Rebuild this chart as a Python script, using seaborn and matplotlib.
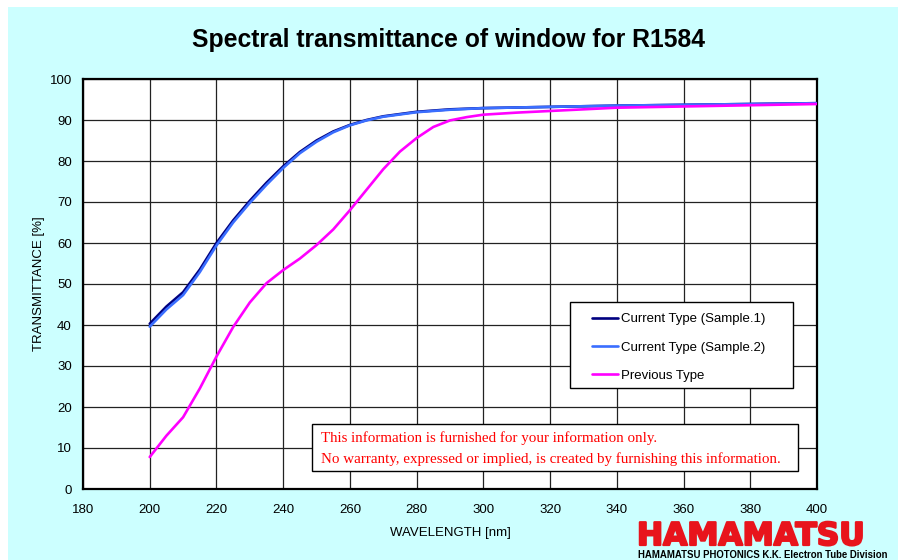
import matplotlib
matplotlib.use("Agg")
import matplotlib.pyplot as plt
from matplotlib.patches import Rectangle
import matplotlib.patheffects as pe
import numpy as np
import pandas as pd
import seaborn as sns

# Wavelengths (nm) and measured transmittance (%)
wl_current = [200, 205, 210, 215, 220, 225, 230, 235, 240, 245, 250, 255, 260,
              265, 270, 280, 290, 300, 320, 340, 360, 380, 400]
sample1 = [40.3, 44.5, 48.0, 53.5, 60.0, 65.5, 70.3, 74.7, 78.7, 82.2, 85.0, 87.2, 88.8,
           90.0, 90.9, 92.0, 92.6, 92.9, 93.2, 93.5, 93.7, 93.9, 94.1]
sample2 = [39.6, 43.8, 47.3, 52.9, 59.4, 65.0, 69.8, 74.2, 78.3, 81.9, 84.7, 87.0, 88.7,
           89.9, 90.8, 91.9, 92.5, 92.9, 93.2, 93.5, 93.7, 93.9, 94.1]

wl_previous = [200, 205, 210, 215, 220, 225, 230, 235, 240, 245, 250, 255, 260, 265,
               270, 275, 280, 285, 290, 295, 300, 310, 320, 340, 360, 380, 400]
previous = [7.8, 13.0, 17.5, 24.5, 32.3, 39.5, 45.5, 50.2, 53.4, 56.2, 59.5, 63.3, 68.0, 73.0,
            78.0, 82.3, 85.6, 88.3, 89.9, 90.7, 91.3, 91.8, 92.2, 93.0, 93.3, 93.6, 93.9]

labels = ["Current Type (Sample.1)", "Current Type (Sample.2)", "Previous Type"]
colors = ["#000080", "#3A6EFF", "#FF00FF"]

x_ticks = list(range(180, 401, 20))
y_ticks = list(range(0, 101, 10))

sns.set_style("white")
plt.rcParams["font.family"] = ["Liberation Sans", "DejaVu Sans"]
plt.rcParams["text.color"] = "black"
plt.rcParams["axes.labelcolor"] = "black"
plt.rcParams["xtick.color"] = "black"
plt.rcParams["ytick.color"] = "black"

W, H = 898, 560
fig = plt.figure(figsize=(W / 100, H / 100), dpi=100, facecolor="white")

# light cyan page background with a thin white margin at top and left
fig.patches.append(Rectangle((8 / W, 0), 1 - 8 / W, 1 - 7 / H, transform=fig.transFigure,
                             facecolor="#CCFFFF", edgecolor="none", zorder=-10))

ax = fig.add_axes([83 / W, (H - 489) / H, (817 - 83) / W, (489 - 79) / H])
ax.set_facecolor("white")

frames = [
    pd.DataFrame({"wl": wl_current, "t": sample1}),
    pd.DataFrame({"wl": wl_current, "t": sample2}),
    pd.DataFrame({"wl": wl_previous, "t": previous}),
]
for df, lab, col in zip(frames, labels, colors):
    sns.lineplot(data=df, x="wl", y="t", ax=ax, color=col, linewidth=1.9,
                 label=lab, sort=False, estimator=None, zorder=3)

ax.set_xlim(180, 400)
ax.set_ylim(0, 100)
ax.set_xticks(x_ticks)
ax.set_yticks(y_ticks)
ax.grid(True, color="#222222", linewidth=0.9)
ax.set_axisbelow(True)
for s in ax.spines.values():
    s.set_visible(True)
    s.set_color("black")
    s.set_linewidth(1.6)
ax.tick_params(axis="both", labelsize=9.5, colors="black", length=3, direction="in", pad=8)
ax.tick_params(axis="x", pad=11)

ax.set_xlabel("WAVELENGTH [nm]", fontsize=9.5, labelpad=8)
ax.set_ylabel("TRANSMITTANCE [%]", fontsize=9.5, labelpad=3)

fig.text(449 / W, 1 - 40 / H, "Spectral transmittance of window for R1584",
         ha="center", va="center", fontsize=17.8, fontweight="bold")

# legend box and entries
ax.add_patch(Rectangle((0.6635, 0.2463), 0.3038, 0.2098, transform=ax.transAxes,
                       facecolor="white", edgecolor="black", linewidth=1.0, zorder=5))
leg = ax.legend(loc="upper left", bbox_to_anchor=(0.6935, 0.4287), frameon=False,
                fontsize=9.5, handlelength=1.97, handletextpad=0.25, labelspacing=1.21,
                borderpad=0, borderaxespad=0)
leg.set_zorder(6)

# disclaimer box
ax.add_patch(Rectangle((0.312, 0.044), 0.662, 0.1145, transform=ax.transAxes,
                       facecolor="white", edgecolor="black", linewidth=1.0, zorder=5))
ax.text(0.324, 0.123, "This information is furnished for your information only.",
        transform=ax.transAxes, color="#FF0000", fontsize=10.8, family="Liberation Serif",
        va="center", ha="left", zorder=6)
ax.text(0.324, 0.074, "No warranty, expressed or implied, is created by furnishing this information.",
        transform=ax.transAxes, color="#FF0000", fontsize=10.8, family="Liberation Serif",
        va="center", ha="left", zorder=6)

# company mark
fig.text(637 / W, 1 - 545 / H, "HAMAMATSU", color="#E8141C", fontsize=22.5,
         fontweight="heavy", family="DejaVu Sans", ha="left", va="baseline",
         path_effects=[pe.withStroke(linewidth=1.6, foreground="#E8141C")])
fig.text(638 / W, 1 - 555 / H, "HAMAMATSU PHOTONICS K.K. Electron Tube Division",
         color="black", fontsize=6.9, fontweight="bold", ha="left", va="center")

fig.savefig("out.png", dpi=100, facecolor=fig.get_facecolor())
